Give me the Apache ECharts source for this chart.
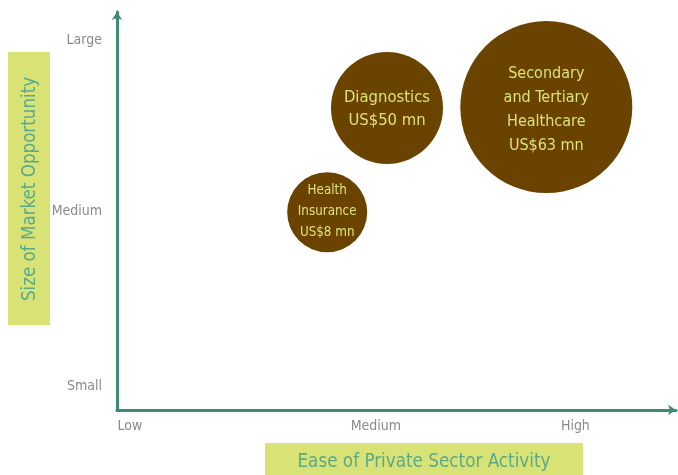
<!DOCTYPE html>
<html><head><meta charset="utf-8">
<script src="https://cdn.jsdelivr.net/npm/echarts@6/dist/echarts.min.js"></script>
<style>html,body{margin:0;padding:0;background:#fff}#c{width:678px;height:475px}</style>
</head><body><div id="c"></div>
<script>
const names = ['Health\nInsurance', 'Diagnostics', 'Secondary\nand Tertiary\nHealthcare'];
const marketValues = ['US$8 mn', 'US$50 mn', 'US$63 mn'];
const easeValues = [37.6, 48.3, 76.8];
const sizeValues = [49.7, 75.9, 76.1];
const bubbleDiameters = [80, 112, 172];
const xTickLabels = ['Low', 'Medium', 'High'];
const xTickValues = [2.3, 46.3, 82];
const yTickLabels = ['Small', 'Medium', 'Large'];
const yTickValues = [6, 50, 93];
const xTitle = 'Ease of Private Sector Activity';
const yTitle = 'Size of Market Opportunity';

const FONT = '"Liberation Sans Narrow", "DejaVu Sans Condensed", "Roboto", sans-serif';
const fontSizes = [13.3, 16.5, 16];
const lineHeights = [21, 23, 24];
const labelOffsets = [[0, -1], [0, 1], [0, 3]];

const chart = echarts.init(document.getElementById('c'));
const data = names.map((n, i) => ({
  value: [easeValues[i], sizeValues[i]],
  symbolSize: bubbleDiameters[i],
  label: {
    formatter: n + '\n' + marketValues[i],
    fontSize: fontSizes[i],
    lineHeight: lineHeights[i],
    offset: labelOffsets[i]
  }
}));
const axisLine = {show: true, lineStyle: {color: '#3f8a72', width: 3}, symbol: ['none', 'arrow'], symbolSize: [8, 8]};
chart.setOption({
  animation: false,
  grid: {left: 117, right: 2, top: 12, bottom: 65},
  xAxis: {
    type: 'value', min: 0, max: 100,
    axisLine: axisLine,
    splitLine: {show: false},
    axisTick: {show: false},
    axisLabel: {
      customValues: xTickValues,
      formatter: v => xTickLabels[xTickValues.indexOf(v)] || '',
      color: '#8a8a8a', fontSize: 14, fontFamily: FONT, margin: 9
    }
  },
  yAxis: {
    type: 'value', min: 0, max: 100,
    axisLine: axisLine,
    splitLine: {show: false},
    axisTick: {show: false},
    axisLabel: {
      customValues: yTickValues,
      formatter: v => yTickLabels[yTickValues.indexOf(v)] || '',
      color: '#8a8a8a', fontSize: 14, fontFamily: FONT, margin: 15
    }
  },
  graphic: [
    {type: 'rect', left: 8, top: 52, shape: {width: 42, height: 273}, style: {fill: '#d9e375'}, z: 0},
    {type: 'text', x: 30, y: 189, rotation: Math.PI / 2,
      style: {text: yTitle, fill: '#5aa98a', font: '18.6px ' + FONT, align: 'center', verticalAlign: 'middle'}, z: 1},
    {type: 'rect', left: 265, top: 443, shape: {width: 318, height: 32}, style: {fill: '#d9e375'}, z: 0},
    {type: 'text', x: 424, y: 462,
      style: {text: xTitle, fill: '#5aa98a', font: '18.7px ' + FONT, align: 'center', verticalAlign: 'middle'}, z: 1}
  ],
  series: [{
    type: 'scatter',
    data: data,
    itemStyle: {color: '#6a4300', opacity: 1},
    label: {show: true, position: 'inside', color: '#dde27a', fontFamily: FONT, align: 'center'}
  }]
});
</script></body></html>
